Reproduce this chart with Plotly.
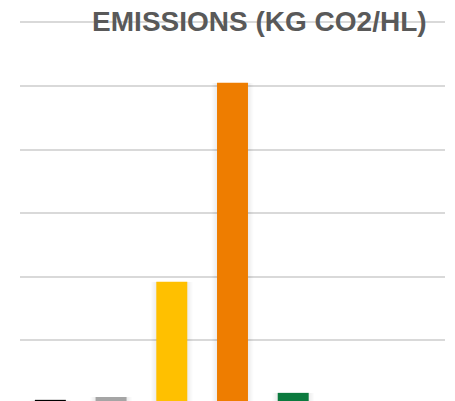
import plotly.graph_objects as go

# Emissions per hectolitre, one bar per source (last two slots left empty)
sources = ["S1", "S2", "S3", "S4", "S5", "S6", "S7"]
emissions = [0.13, 0.22, 3.84, 10.1, 0.35, None, None]
bar_colors = ["#000000", "#A5A5A5", "#FFC000", "#EE7D00", "#0B7A3E", "#FFFFFF", "#FFFFFF"]

fig = go.Figure()

# soft drop shadow: stacked translucent layers, widest first
for k in range(6, 0, -1):
    fig.add_trace(go.Bar(
        x=sources, y=emissions, width=0.51 + 0.03 * k,
        marker=dict(color="rgba(0,0,0,0.012)", line=dict(width=0)),
        hoverinfo="skip", showlegend=False,
    ))

fig.add_trace(go.Bar(
    x=sources, y=emissions, width=0.51,
    marker=dict(color=bar_colors, line=dict(width=0)),
    showlegend=False,
))

fig.update_layout(
    width=455, height=401,
    margin=dict(l=20, r=10, t=0, b=0),
    paper_bgcolor="white", plot_bgcolor="white",
    barmode="overlay",
    title=dict(
        text="<b>EMISSIONS (KG CO2/HL)</b>",
        font=dict(family="Liberation Sans, Arial, sans-serif", size=28, color="#595959"),
        xref="container", yref="container",
        x=0.570, xanchor="center",
        y=1 - 21 / 401, yanchor="middle",
    ),
    xaxis=dict(
        range=[-0.5, 6.5], showticklabels=False, showgrid=False,
        zeroline=False, showline=False, ticks="",
    ),
    yaxis=dict(
        range=[0.094, 12.70], dtick=2, tick0=0,
        showticklabels=False, showgrid=True, gridcolor="#D9D9D9", gridwidth=1.5,
        zeroline=False, showline=False, ticks="",
    ),
)

fig.write_html("out.html")
